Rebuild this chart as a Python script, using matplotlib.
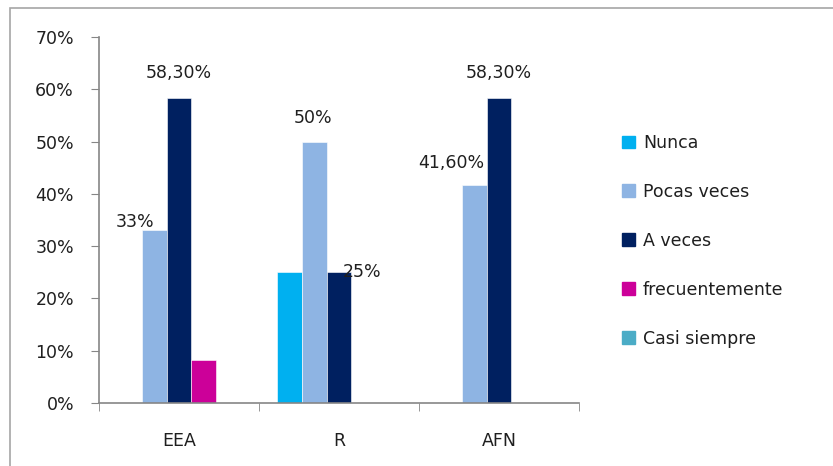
import matplotlib.pyplot as plt
import matplotlib.patches as mpatches
import numpy as np

plt.rcParams['font.family'] = ['DejaVu Sans']

# datos
categorias = ['EEA', 'R', 'AFN']
series = ['Nunca', 'Pocas veces', 'A veces', 'frecuentemente', 'Casi siempre']
nunca = [0, 0.25, 0]
pocas_veces = [0.33, 0.50, 0.416]
a_veces = [0.583, 0.25, 0.583]
frecuentemente = [0.083, 0, 0]
casi_siempre = [0, 0, 0]
colores = ['#00B0F0', '#8EB4E3', '#002060', '#CC0099', '#4BACC6']

# etiquetas visibles: (serie, categoria, texto, dx px, dy px)
etiquetas = [
    (1, 0, '33%', -19, 8),
    (2, 0, '58,30%', 0, 25),
    (1, 1, '50%', -1, 24),
    (2, 1, '25%', 23, 0),
    (1, 2, '41,60%', -23, 22),
    (2, 2, '58,30%', 0, 25),
]

valores = [nunca, pocas_veces, a_veces, frecuentemente, casi_siempre]
fs = 12.5

fig = plt.figure(figsize=(8.33, 4.66), dpi=100)
ax = fig.add_axes([99 / 833, 63 / 466, 480 / 833, 366 / 466])

# borde exterior del grafico
fig.patches.append(mpatches.Rectangle((10 / 833, -0.1), 1.2, (466 - 8) / 466 + 0.1,
                                      transform=fig.transFigure, fill=False,
                                      edgecolor='#A6A6A6', linewidth=1.2))

x = np.arange(len(categorias))
ancho = 1 / 6.5
for i, (nombre, vals) in enumerate(zip(series, valores)):
    pos = x + (i - 2) * ancho
    ax.bar(pos, vals, width=ancho, color=colores[i], label=nombre,
           edgecolor='white', linewidth=0.4)

for s, c, txt, dx, dy in etiquetas:
    ax.annotate(txt, (x[c] + (s - 2) * ancho, valores[s][c]),
                xytext=(dx * 0.72, dy * 0.72), textcoords='offset points',
                ha='center', va='center', fontsize=fs, color='#1F1F1F')

ax.set_xlim(-0.5, 2.5)
ax.set_ylim(0, 0.7)
ax.set_yticks(np.arange(0, 0.71, 0.1))
ax.set_yticklabels([f'{int(round(v * 100))}%' for v in np.arange(0, 0.71, 0.1)])
ax.set_xticks(x)
ax.set_xticklabels(categorias)
ax.set_xticks([-0.5, 0.5, 1.5, 2.5], minor=True)
ax.tick_params(axis='x', which='major', length=0, pad=21, labelsize=fs, labelcolor='#1F1F1F')
ax.tick_params(axis='x', which='minor', length=6, color='#868686', direction='out')
ax.tick_params(axis='y', length=6, color='#868686', direction='out', pad=12,
               labelsize=fs, labelcolor='#1F1F1F')
for lado in ['top', 'right']:
    ax.spines[lado].set_visible(False)
for lado in ['left', 'bottom']:
    ax.spines[lado].set_color('#868686')
    ax.spines[lado].set_linewidth(1.2)

handles = [mpatches.Patch(color=c) for c in colores]
fig.legend(handles, series, loc='upper left', bbox_to_anchor=(622 / 833, (466 - 134) / 466),
           frameon=False, fontsize=fs, handlelength=0.75, handleheight=0.75,
           handletextpad=0.45, labelspacing=1.78, borderpad=0, borderaxespad=0,
           labelcolor='#1F1F1F')

plt.savefig('out.png', dpi=100)
